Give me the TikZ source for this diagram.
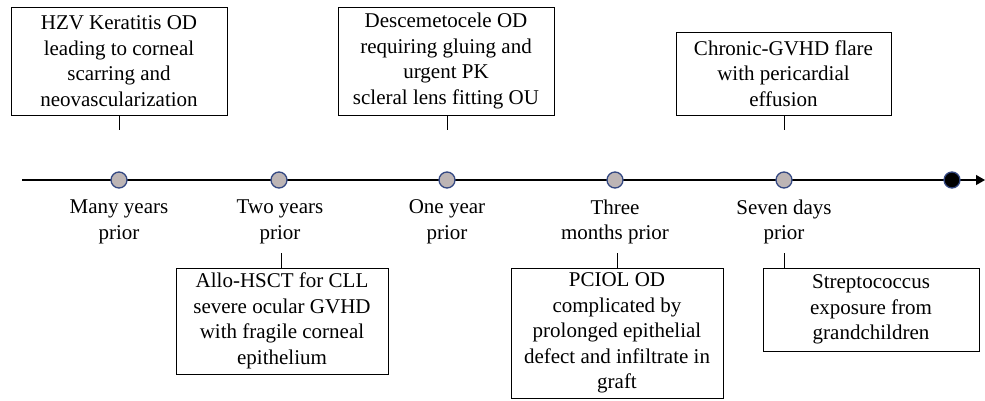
\documentclass[tikz,border=0pt]{standalone}
\usepackage{fontspec}
\setmainfont{Liberation Serif}
\usetikzlibrary{arrows.meta}
\definecolor{dotfill}{RGB}{189,181,181}
\definecolor{dotedge}{RGB}{52,72,130}
\begin{document}
\begin{tikzpicture}[x=1pt,y=-1pt,
  evbox/.style={draw, line width=0.9pt, align=center, font=\fontsize{21}{25.5}\selectfont, inner sep=0pt},
  lbl/.style={align=center, font=\fontsize{21}{25.5}\selectfont, inner sep=0pt},
  dot/.style={circle, draw=dotedge, fill=dotfill, line width=1.3pt, minimum size=16pt, inner sep=0pt},
  nowdot/.style={dot, fill=black},
  tick/.style={line width=0.9pt},
  axis/.style={line width=1.1pt, -{Triangle[length=9pt,width=10pt]}}]
\useasboundingbox (0,0) rectangle (985,400);

% timeline
\coordinate (tstart) at (22,180);
\coordinate (tend) at (985,180);
\draw[axis] (tstart) -- (tend);

% dots
\node[dot] (d1) at (119,180) {};
\node[dot] (d2) at (279,180) {};
\node[dot] (d3) at (447,180) {};
\node[dot] (d4) at (615,180) {};
\node[dot] (d5) at (784,180) {};
\node[nowdot] (d6) at (952,180) {};

% time labels
\node[lbl] (l1) at (119,222) {Many years\\prior};
\node[lbl] (l2) at (280,222) {Two years\\prior};
\node[lbl] (l3) at (447,222) {One year\\prior};
\node[lbl] (l4) at (615,222) {Three\\months prior};
\node[lbl] (l5) at (784,222) {Seven days\\prior};

% top boxes
\node[evbox, minimum width=216pt, minimum height=108pt] (b1) at (119,61)
  {HZV Keratitis OD\\leading to corneal\\scarring and\\neovascularization};
\node[evbox, minimum width=216pt, minimum height=108pt] (b2) at (446,61)
  {Descemetocele OD\\requiring gluing and\\urgent PK\\scleral lens fitting OU};
\node[evbox, minimum width=215pt, minimum height=83pt] (b3) at (783.5,73.5)
  {Chronic-GVHD flare\\with pericardial\\effusion};

% bottom boxes
\node[evbox, minimum width=212pt, minimum height=106pt] (b4) at (282,321)
  {Allo-HSCT for CLL\\severe ocular GVHD\\with fragile corneal\\epithelium};
\node[evbox, minimum width=212pt, minimum height=130pt] (b5) at (617,333)
  {PCIOL OD\\complicated by\\prolonged epithelial\\defect and infiltrate in\\graft};
\node[evbox, minimum width=216pt, minimum height=83pt] (b6) at (871,309.5)
  {Streptococcus\\exposure from\\grandchildren};

% connectors
\coordinate (c1) at (119,130);
\coordinate (c2) at (447,130);
\coordinate (c3) at (784,130);
\coordinate (c4) at (281,253);
\coordinate (c5) at (617,253);
\coordinate (c6) at (784,253);
\draw[tick] (b1.south) -- (c1);
\draw[tick] (b2.south -| c2) -- (c2);
\draw[tick] (b3.south -| c3) -- (c3);
\draw[tick] (b4.north -| c4) -- (c4);
\draw[tick] (b5.north) -- (c5);
\draw[tick] (b6.north -| c6) -- (c6);
\end{tikzpicture}
\end{document}
